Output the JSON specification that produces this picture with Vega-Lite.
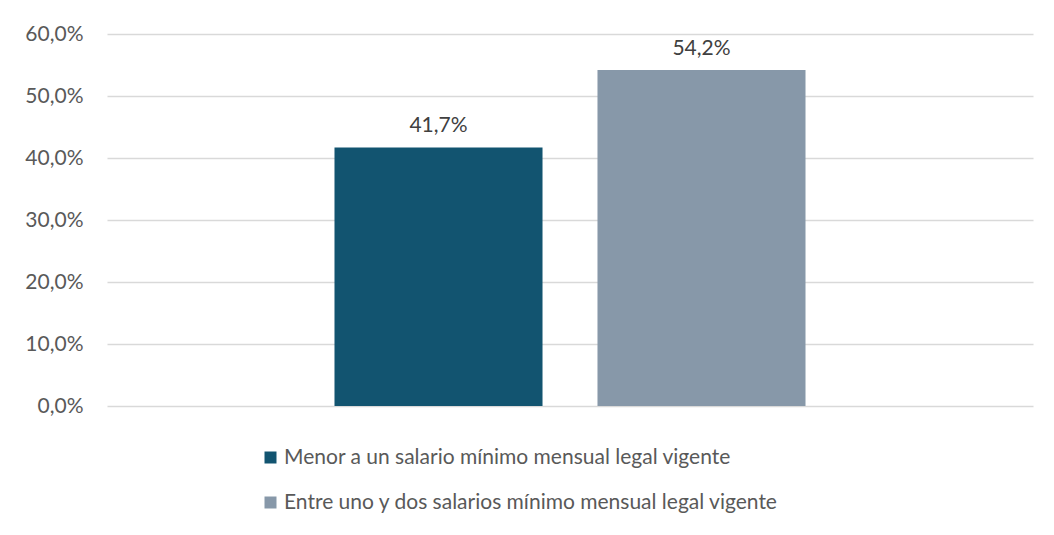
{
  "$schema": "https://vega.github.io/schema/vega-lite/v6.json",
  "autosize": "none",
  "width": 926,
  "height": 372,
  "padding": {"left": 107, "top": 34, "right": 21, "bottom": 129},
  "background": "white",
  "config": {
    "locale": {"number": {"decimal": ",", "thousands": ".", "grouping": [3], "currency": ["$", ""]}},
    "view": {"stroke": null},
    "font": "Lato"
  },
  "data": {
    "values": [
      {"serie": "Menor a un salario mínimo mensual legal vigente", "valor": 0.417},
      {"serie": "Entre uno y dos salarios mínimo mensual legal vigente", "valor": 0.542}
    ]
  },
  "encoding": {
    "x": {
      "field": "serie", "type": "nominal", "sort": null,
      "scale": {"paddingInner": 0.209, "paddingOuter": 0.865},
      "axis": null
    },
    "y": {
      "field": "valor", "type": "quantitative",
      "scale": {"domain": [0, 0.6], "nice": false},
      "axis": {
        "format": ".1%", "values": [0, 0.1, 0.2, 0.3, 0.4, 0.5, 0.6],
        "title": null, "domain": false, "ticks": false,
        "labelPadding": 24, "labelFontSize": 21, "labelColor": "#595959",
        "labelFont": "Lato",
        "gridColor": "#d9d9d9", "gridWidth": 1.5
      }
    }
  },
  "layer": [
    {
      "mark": {"type": "bar"},
      "encoding": {
        "color": {
          "field": "serie", "type": "nominal", "sort": null,
          "scale": {
            "domain": ["Menor a un salario mínimo mensual legal vigente", "Entre uno y dos salarios mínimo mensual legal vigente"],
            "range": ["#125470", "#8798a9"]
          },
          "legend": {
            "title": null, "orient": "none", "legendX": 153, "legendY": 413,
            "direction": "vertical", "symbolType": "square", "symbolSize": 144,
            "symbolStrokeWidth": 0, "symbolOpacity": 1,
            "labelFontSize": 21, "labelColor": "#595959", "labelFont": "Lato",
            "labelOffset": 3, "rowPadding": 23, "labelLimit": 800
          }
        }
      }
    },
    {
      "mark": {"type": "text", "baseline": "bottom", "dy": -11, "fontSize": 21, "color": "#404040", "font": "Lato"},
      "encoding": {
        "text": {"field": "valor", "type": "quantitative", "format": ".1%"}
      }
    }
  ]
}
